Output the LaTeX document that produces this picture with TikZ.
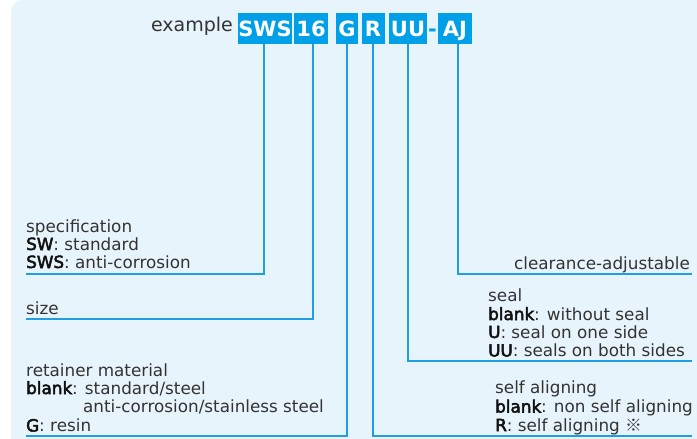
\documentclass[tikz,border=0pt]{standalone}
\usepackage{fontspec}
\setmainfont{DejaVu Sans}
\newfontfamily\semib[BoldFont=DejaVu Sans,BoldFeatures={FakeBold=3}]{DejaVu Sans}
\newfontfamily\cjkfont{Noto Sans CJK JP}
\definecolor{bgblue}{HTML}{E8F4FC}
\definecolor{boxblue}{HTML}{00A0E9}
\definecolor{lineblue}{HTML}{1E9FE3}
\definecolor{txt}{HTML}{333333}
\definecolor{btxt}{HTML}{111111}
\newcommand{\bk}[1]{{\color{btxt}\semib\bfseries #1}}
\begin{document}
\begin{tikzpicture}[x=1pt,y=-1pt,
  codebox/.style={fill=boxblue,text=white,font=\fontsize{21}{22}\selectfont\bfseries,
    minimum height=31pt,inner xsep=0pt,inner ysep=0pt,text height=15.3pt,text depth=0pt,anchor=center},
  lbl/.style={anchor=base west,inner sep=0pt,text=txt,font=\fontsize{16.8}{18}\selectfont},
  rlbl/.style={lbl,anchor=base east},
  conn/.style={draw=lineblue,line width=1.4pt}]
\useasboundingbox (0,0) rectangle (697,439);
\fill[bgblue,rounded corners=12pt] (11,0) -- (697,0) -- (697,439) -- (11,439) -- cycle;
\fill[bgblue] (600,0) rectangle (697,439);
\fill[bgblue] (11,300) rectangle (697,439);
% title
\node[anchor=base east,inner sep=0pt,text=txt,font=\fontsize{19}{20}\selectfont] (ex) at (233,31) {example};
\node[codebox,minimum width=52pt] (sws) at (265,28.5) {SWS};
\node[codebox,minimum width=34pt] (n16) at (311,28.5) {16};
\node[codebox,minimum width=21.5pt] (g) at (347,28.5) {G};
\node[codebox,minimum width=23pt] (r) at (373,28.5) {R};
\node[codebox,minimum width=38pt] (uu) at (408,28.5) {UU};
\node[codebox,fill=none,text=boxblue,minimum width=8pt] (dash) at (432.5,28.5) {-};
\node[codebox,minimum width=34pt] (aj) at (455,28.5) {AJ};
% end coordinates
\coordinate (specend) at (26,274);
\coordinate (sizeend) at (26,319);
\coordinate (retend) at (26,436);
\coordinate (alignend) at (692,436);
\coordinate (sealend) at (692,361);
\coordinate (clrend) at (692,274);
% connectors
\draw[conn] ([xshift=-1pt]sws.south) |- (specend);
\draw[conn] ([xshift=2pt]n16.south) |- (sizeend);
\draw[conn] (g.south) |- (retend);
\draw[conn] (r.south) |- (alignend);
\draw[conn] (uu.south) |- (sealend);
\draw[conn] ([xshift=3pt]aj.south) |- (clrend);
% left labels
\node[lbl] (spec1) at (26,232) {specification};
\node[lbl] (spec2) at (26,250) {\bk{SW}: standard};
\node[lbl] (spec3) at (26,268) {\bk{SWS}: anti-corrosion};
\node[lbl] (size) at (26,314) {size};
\node[lbl] (ret1) at (26,376) {retainer material};
\node[lbl] (ret2) at (26,394) {\bk{blank}: standard/steel};
\node[lbl] (ret3) at (83,412.5) {anti-corrosion/stainless steel};
\node[lbl] (ret4) at (26,431.5) {\bk{G}: resin};
% right labels
\node[rlbl] (clr) at (690,269) {clearance-adjustable};
\node[lbl] (seal1) at (488,301) {seal};
\node[lbl] (seal2) at (488,320) {\bk{blank}: without seal};
\node[lbl] (seal3) at (488,338) {\bk{U}: seal on one side};
\node[lbl] (seal4) at (488,356.5) {\bk{UU}: seals on both sides};
\node[lbl] (al1) at (495,393) {self aligning};
\node[lbl] (al2) at (495,412.5) {\bk{blank}: non self aligning};
\node[lbl] (al3) at (495,431) {\bk{R}: self aligning {\cjkfont ※}};
\end{tikzpicture}
\end{document}
